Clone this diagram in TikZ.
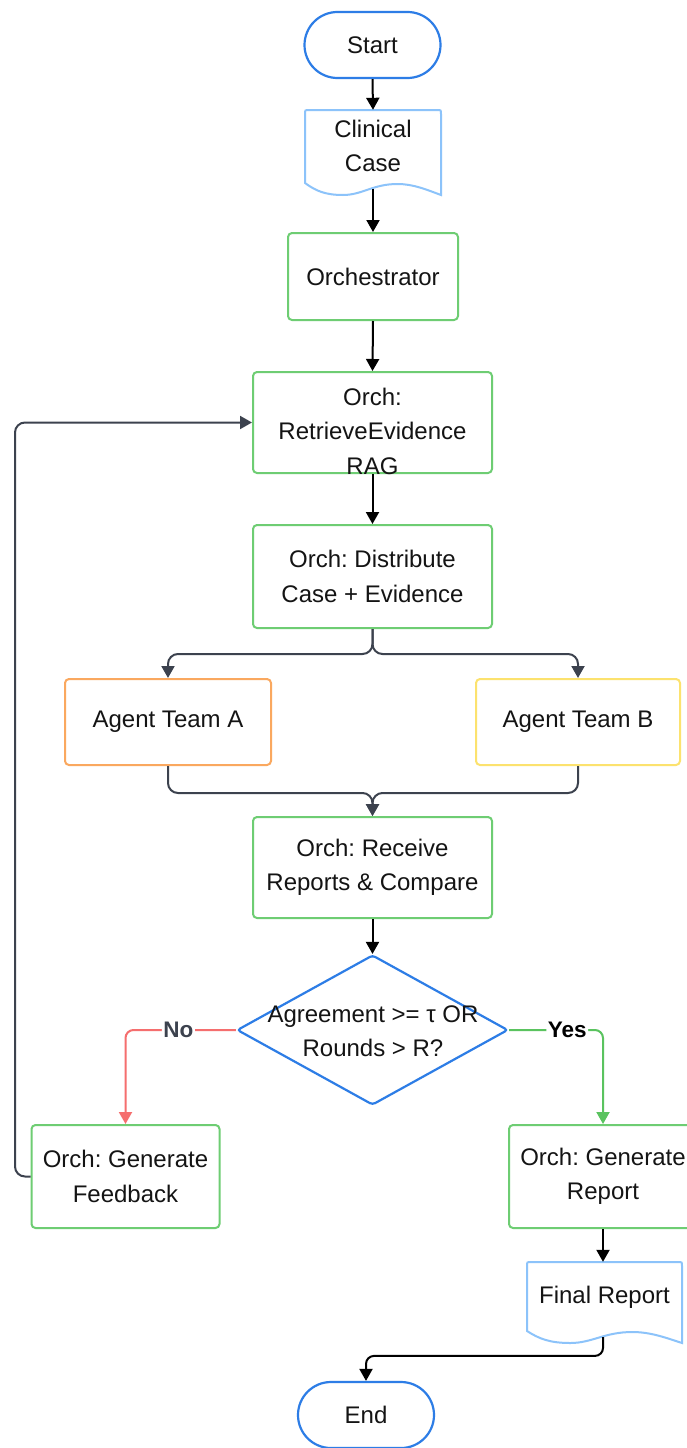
\documentclass[tikz,border=0pt]{standalone}
\usepackage{fontspec}
\setmainfont{Liberation Sans}
\usetikzlibrary{arrows.meta,shapes.geometric,calc}
\definecolor{bstart}{RGB}{45,125,230}
\definecolor{bdoc}{RGB}{140,195,250}
\definecolor{gbox}{RGB}{110,205,115}
\definecolor{obox}{RGB}{250,168,95}
\definecolor{ybox}{RGB}{252,226,110}
\definecolor{ngray}{RGB}{60,66,78}
\definecolor{nored}{RGB}{245,110,110}
\definecolor{yesgreen}{RGB}{90,195,95}
\definecolor{txtc}{RGB}{20,20,20}
\frenchspacing
\newcommand{\docshape}[5]{%
  \draw[line width=2pt, draw=#1]
    (#2,{#5-12}) -- (#2,{#4+4}) .. controls (#2,#4) .. ({#2+4},#4)
    -- ({#3-4},#4) .. controls (#3,#4) .. (#3,{#4+4}) -- (#3,#5)
    .. controls ({#2+0.9*(#3-#2)},{#5-5}) and ({#2+0.8*(#3-#2)},{#5-11}) .. ({#2+0.68*(#3-#2)},{#5-11})
    .. controls ({#2+0.5*(#3-#2)},{#5-11}) and ({#2+0.42*(#3-#2)},#5) .. ({#2+0.28*(#3-#2)},#5)
    .. controls ({#2+0.15*(#3-#2)},#5) and ({#2+0.08*(#3-#2)},{#5-4}) .. (#2,{#5-12}) -- cycle;}
\begin{document}
\begin{tikzpicture}[x=1pt,y=-1pt,
  font=\fontsize{24}{34.5}\selectfont, text=txtc,
  txt/.style={align=center, inner sep=0pt},
  box/.style={draw, line width=2pt, rounded corners=4pt, align=center, inner sep=0pt},
  gbx/.style={box, draw=gbox},
  term/.style={draw=bstart, line width=2.2pt, rounded corners=33pt, minimum width=136pt, minimum height=66pt, align=center},
  ghost/.style={inner sep=0pt},
  arr/.style={-{Triangle[width=13pt,length=12pt]}, line width=2pt},
  lbl/.style={fill=white, inner sep=1.5pt, font=\fontsize{22.5}{26}\selectfont\bfseries}
]
\fill[white] (0,0) rectangle (687,1448);
\useasboundingbox (0,0) rectangle (687,1448);

% nodes
\node[term] (start) at (372.5,45) {Start};

\node[ghost, minimum width=136pt, minimum height=85pt] (cc) at (373,152.5) {};
\docshape{bdoc}{305}{441}{110}{195}
\node[txt] (cctxt) at (373,146) {Clinical\\Case};

\node[gbx, minimum width=170pt, minimum height=87pt] (orch) at (373,276.5) {Orchestrator};

\node[gbx, minimum width=239pt, minimum height=101pt] (retr) at (372.5,422.5) {};
\node[txt] (retrtxt) at (372.5,431) {Orch:\\RetrieveEvidence\\RAG};

\node[gbx, minimum width=239pt, minimum height=103pt] (dist) at (372.5,576.5) {Orch: Distribute\\Case + Evidence};

\node[box, draw=obox, minimum width=206pt, minimum height=86pt] (ta) at (168,722) {Agent Team A};
\node[box, draw=ybox, minimum width=204pt, minimum height=86pt] (tb) at (578,722) {Agent Team B};

\node[gbx, minimum width=239pt, minimum height=101pt] (recv) at (372.5,867.5) {Orch: Receive\\Reports \& Compare};

\node[diamond, draw=bstart, line width=2.2pt, minimum width=271pt, minimum height=150pt, inner sep=0pt, rounded corners=3pt] (dec) at (372.5,1030) {};
\node[txt] (dectxt) at (373,1031) {Agreement >= τ OR\\Rounds > R?};

\node[gbx, minimum width=188pt, minimum height=103pt] (fb) at (125.5,1176.5) {Orch: Generate\\Feedback};
\node[gbx, minimum width=188pt, minimum height=103pt] (gr) at (603,1176.5) {Orch: Generate\\Report};

\node[ghost, minimum width=155pt, minimum height=81pt] (fr) at (604.5,1302.5) {};
\docshape{bdoc}{527}{682}{1262}{1343}
\node[txt] (frtxt) at (604.5,1297) {Final Report};

\node[term] (end) at (366,1415) {End};

% connectors
\draw[arr] (start.south) -- (cc.north);
\coordinate (ccb) at ($(cc.south)+(0,-6)$);
\draw[arr] (ccb) -- (orch.north);
\draw[arr] (orch.south) -- (retr.north);
\draw[arr] (retr.south) -- (dist.north);
\draw[arr, ngray, rounded corners=10pt] (dist.south) -- ++(0,25) -| (ta.north);
\draw[arr, ngray, rounded corners=10pt] (dist.south) -- ++(0,25) -| (tb.north);
\draw[arr, ngray, rounded corners=10pt] (ta.south) -- ++(0,27) -| (recv.north);
\draw[arr, ngray, rounded corners=10pt] (tb.south) -- ++(0,27) -| (recv.north);
\draw[arr] (recv.south) -- (dec.north);
\draw[arr, nored, rounded corners=8pt] (dec.west) -| node[lbl, pos=0.26, text=ngray] (nolbl) {No} (fb.north);
\draw[arr, yesgreen, rounded corners=8pt] (dec.east) -| node[lbl, pos=0.31, text=black] (yeslbl) {Yes} (gr.north);
\draw[arr] (gr.south) -- (gr.south |- fr.north);
\coordinate (frb) at ($(fr.south)+(-1.5,-6)$);
\draw[arr, rounded corners=8pt] (frb) |- ($(end.north)+(0,-25)$) -- (end.north);
\coordinate (lp) at (15,422.5);
\draw[arr, ngray, rounded corners=10pt] (fb.west) -| (lp) -- (retr.west);
\end{tikzpicture}
\end{document}
